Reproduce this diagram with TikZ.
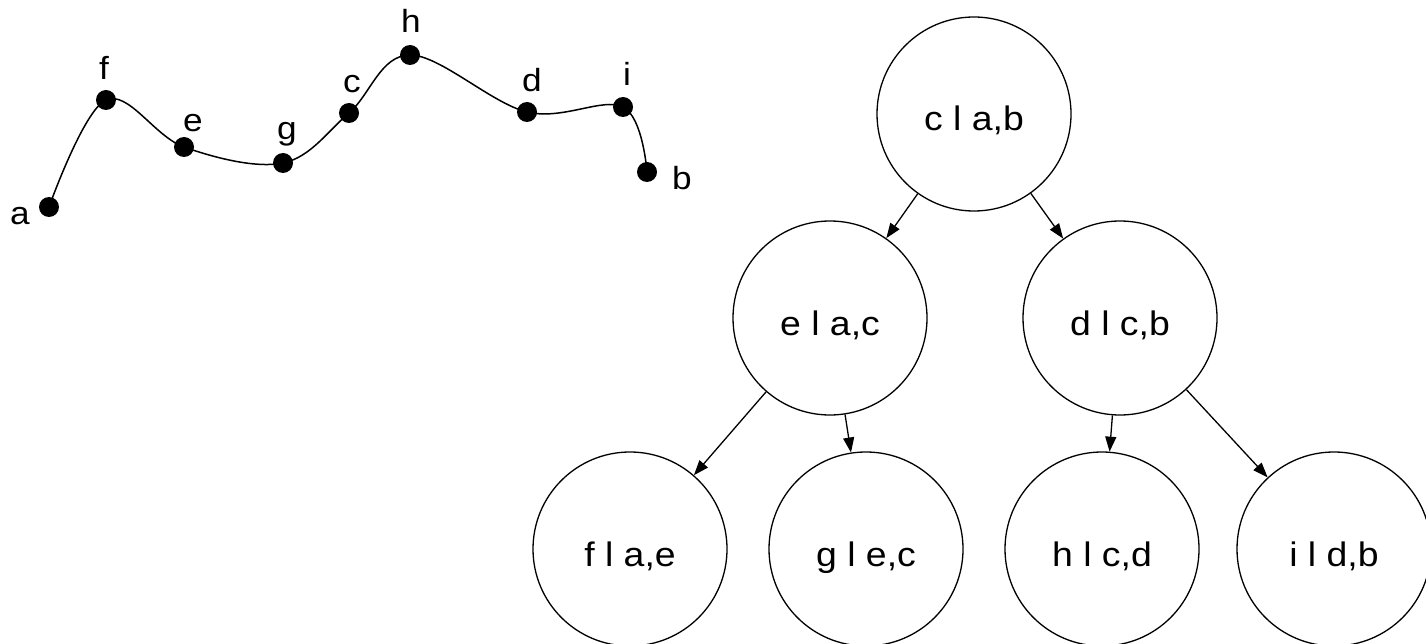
\documentclass[tikz,border=0pt]{standalone}
\usepackage{fontspec}
\setmainfont{Liberation Sans}
\newfontfamily\treefont[FakeStretch=1.1]{Liberation Sans}
\usetikzlibrary{arrows.meta}
\begin{document}
\begin{tikzpicture}[x=1pt,y=-1pt,
  dot/.style={circle,fill=black,inner sep=0pt,minimum size=20pt},
  lab/.style={anchor=base,font=\treefont\fontsize{32}{34}\selectfont,inner sep=0pt},
  tnode/.style={circle,draw,line width=1.3pt,minimum size=194pt,inner sep=0pt,
    text height=34pt,text depth=0pt,font=\treefont\fontsize{34}{36}\selectfont},
  edge/.style={line width=1.3pt,-{Triangle[length=15pt,width=11pt]}},
  curve/.style={line width=1.5pt}]
\useasboundingbox (0,0) rectangle (1426,644);
% curve points
\coordinate (pa) at (49,207);
\coordinate (pf) at (106,100);
\coordinate (pe) at (184,147);
\coordinate (pg) at (283,163);
\coordinate (pc) at (349,113);
\coordinate (ph) at (410,55);
\coordinate (pd) at (527,112);
\coordinate (pi) at (623,107);
\coordinate (pb) at (647,172);
\draw[curve] plot[smooth,tension=0.6] coordinates {(pa) (pf) (pe) (pg) (pc) (ph) (pd) (pi) (pb)};
\foreach \p in {pa,pf,pe,pg,pc,ph,pd,pi,pb} {\node[dot] (d\p) at (\p) {};}
% labels
\node[lab] (la) at (20,225) {a};
\node[lab] (lf) at (104,80) {f};
\node[lab] (le) at (193,132) {e};
\node[lab] (lg) at (287,140) {g};
\node[lab] (lc) at (352,93) {c};
\node[lab] (lh) at (411,33) {h};
\node[lab] (ld) at (532,92) {d};
\node[lab] (li) at (627,86) {i};
\node[lab] (lb) at (682,190) {b};
% tree
\node[tnode] (tc) at (974,114) {c l a,b};
\node[tnode] (te) at (830,318) {e l a,c};
\node[tnode] (td) at (1120,318) {d l c,b};
\node[tnode] (tf) at (630,549) {f l a,e};
\node[tnode] (tg) at (866,549) {g l e,c};
\node[tnode] (th) at (1102,549) {h l c,d};
\node[tnode] (ti) at (1334,549) {i l d,b};
\draw[edge] (tc) -- (te);
\draw[edge] (tc) -- (td);
\draw[edge] (te) -- (tf);
\draw[edge] (te) -- (tg);
\draw[edge] (td) -- (th);
\draw[edge] (td) -- (ti);
\end{tikzpicture}
\end{document}
